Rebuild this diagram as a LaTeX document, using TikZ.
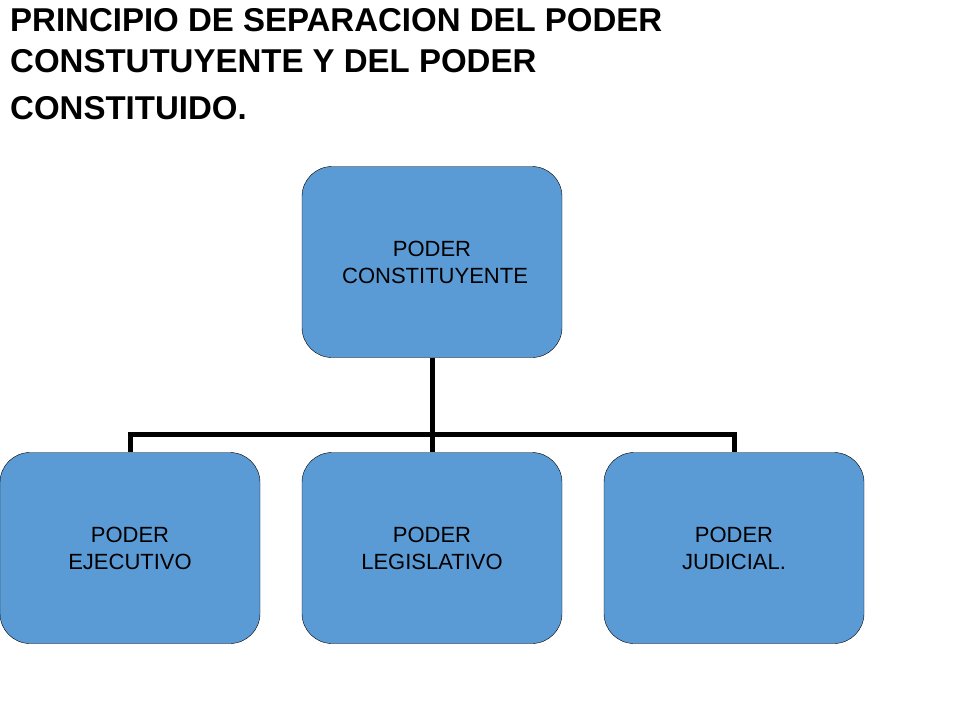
\documentclass[tikz,border=0pt]{standalone}
\usepackage{fontspec}
\setmainfont{Liberation Sans}
\begin{document}
\begin{tikzpicture}[x=1pt,y=-1pt,
  caja/.style={draw=black,thin,fill=poderazul,rounded corners=30pt,
    minimum width=260pt,minimum height=191pt,align=center,
    font=\fontsize{22}{27}\selectfont,inner sep=0pt},
  rama/.style={line width=5pt}]
\definecolor{poderazul}{HTML}{5B9BD5}
\useasboundingbox (0,0) rectangle (960,720);
\node[anchor=north west,align=left,font=\fontsize{33}{41}\bfseries\selectfont,inner sep=0pt]
  (titulo) at (10,8) {PRINCIPIO DE SEPARACION DEL PODER\\CONSTUTUYENTE Y DEL PODER\\[6pt]CONSTITUIDO.};
\node[caja] (constituyente) at (432,262) {PODER\\\ CONSTITUYENTE};
\node[caja] (ejecutivo) at (130,548) {PODER\\EJECUTIVO};
\node[caja] (legislativo) at (432,548) {PODER\\LEGISLATIVO};
\node[caja] (judicial) at (734,548) {PODER\\JUDICIAL.};
%
% conectores
\coordinate (bus) at (432,434);
\draw[rama] (constituyente.south) -- (bus);
\draw[rama] (ejecutivo.north) -- (ejecutivo.north |- bus) -- (judicial.north |- bus) -- (judicial.north);
\draw[rama] (bus) -- (legislativo.north);
\end{tikzpicture}
\end{document}
